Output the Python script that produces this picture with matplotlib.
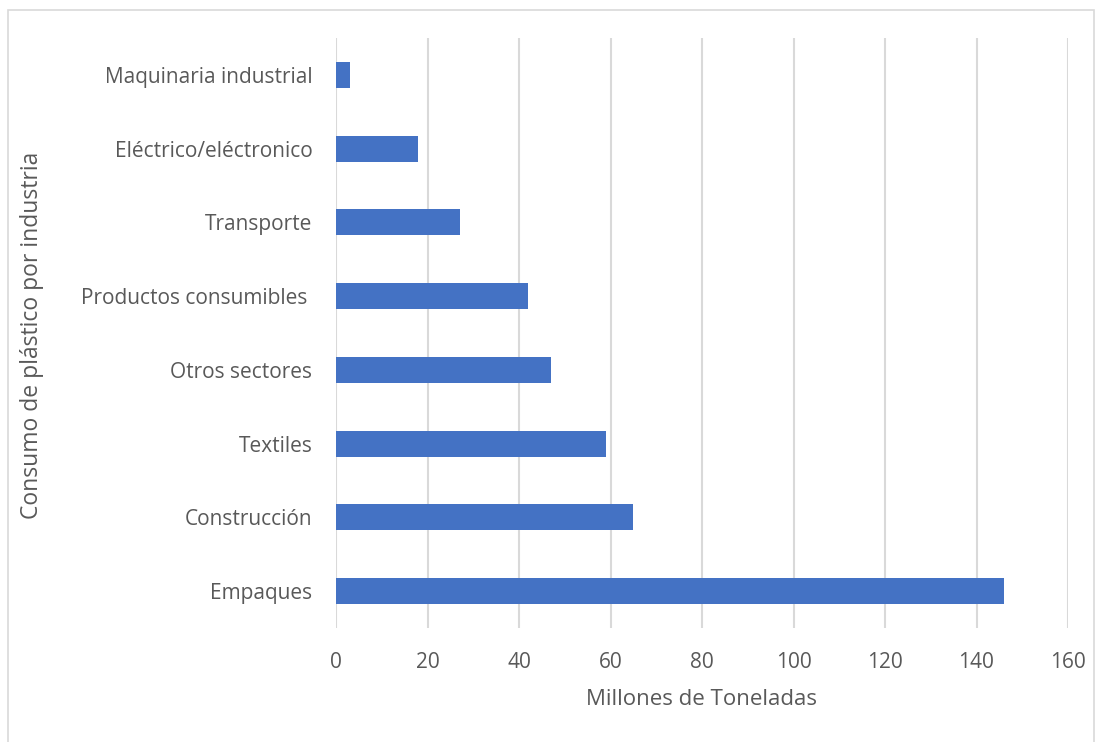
import matplotlib.pyplot as plt
from matplotlib.patches import Rectangle

industrias = ['Empaques', 'Construcción', 'Textiles', 'Otros sectores',
              'Productos consumibles ', 'Transporte', 'Eléctrico/eléctronico',
              'Maquinaria industrial']
toneladas = [146, 65, 59, 47, 42, 27, 18, 3]
ticks_x = [0, 20, 40, 60, 80, 100, 120, 140, 160]

gris = '#595959'
plt.rcParams['font.family'] = ['Open Sans', 'DejaVu Sans']

fig = plt.figure(figsize=(11, 7.42), dpi=100)
fig.patches.append(Rectangle((8 / 1100, -0.01), 1086 / 1100, 1 - 10 / 742 + 0.01,
                             transform=fig.transFigure, fill=False,
                             edgecolor='#D9D9D9', linewidth=1.2))
ax = fig.add_axes([336 / 1100, 1 - 628 / 742, 732 / 1100, 590 / 742])

pos = list(range(len(industrias)))
ax.barh(pos, toneladas, height=0.35, color='#4472C4', zorder=3)

ax.set_xlim(0, 160)
ax.set_ylim(-0.5, len(industrias) - 0.5)
ax.set_xticks(ticks_x)
ax.set_yticks(pos)
ax.set_yticklabels(industrias)
ax.grid(axis='x', color='#D9D9D9', linewidth=1.5, zorder=0)
for s in ax.spines.values():
    s.set_visible(False)
ax.tick_params(length=0, labelsize=15, colors=gris)
ax.tick_params(axis='x', pad=17)
ax.tick_params(axis='y', pad=17)

ax.set_xlabel('Millones de Toneladas', fontsize=16, color=gris, labelpad=12)
fig.text(32 / 1100, 1 - 335 / 742, 'Consumo de plástico por industria', rotation=90,
         fontsize=16.5, color=gris, ha='center', va='center')

fig.savefig('out.png', dpi=100)
